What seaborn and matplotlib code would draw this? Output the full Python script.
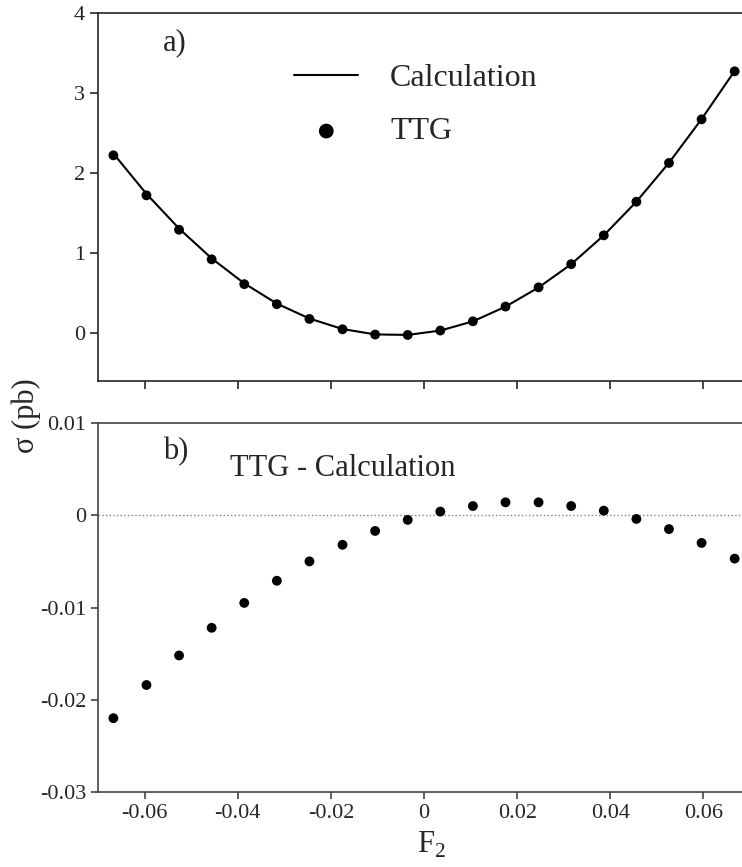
import numpy as np
import pandas as pd
import matplotlib
matplotlib.use('Agg')
import matplotlib.pyplot as plt
import seaborn as sns

# values
f2 = [-0.0667, -0.0596, -0.0526, -0.0456, -0.0386, -0.0316, -0.0246, -0.0175, -0.0105, -0.0035,
      0.0035, 0.0105, 0.0175, 0.0246, 0.0316, 0.0386, 0.0456, 0.0526, 0.0596, 0.0667]
ttg = [2.22, 1.72, 1.29, 0.92, 0.61, 0.36, 0.175, 0.046, -0.02, -0.025,
       0.03, 0.146, 0.33, 0.57, 0.86, 1.22, 1.64, 2.125, 2.67, 3.27]
diff = [-0.0220, -0.0184, -0.0152, -0.0122, -0.0095, -0.0071, -0.0050, -0.0032, -0.0017, -0.0005,
        0.0004, 0.0010, 0.0014, 0.0014, 0.0010, 0.0005, -0.0004, -0.0015, -0.0030, -0.0047]
top_yticks = [0, 1, 2, 3, 4]
bot_yticks = [-0.03, -0.02, -0.01, 0, 0.01]
bot_yticklabels = ['-0.03', '-0.02', '-0.01', '0', '0.01']
xticks = [-0.06, -0.04, -0.02, 0, 0.02, 0.04, 0.06]
xticklabels = ['-0.06', '-0.04', '-0.02', '0', '0.02', '0.04', '0.06']

df = pd.DataFrame({'F2': f2, 'TTG': ttg, 'diff': diff})
df['calc'] = df['TTG'] - df['diff']

sns.set_style('ticks')
plt.rcParams['font.family'] = ['Liberation Serif', 'DejaVu Serif']
plt.rcParams['mathtext.fontset'] = 'custom'
plt.rcParams['mathtext.rm'] = 'Liberation Serif'

fig = plt.figure(figsize=(7.42, 8.67), dpi=100)
ax1 = fig.add_axes([0.1321, 0.5606, 0.8787, 0.4245])
ax2 = fig.add_axes([0.1321, 0.0865, 0.8787, 0.4256])

# top panel: calculation curve and TTG points
sns.lineplot(data=df, x='F2', y='calc', ax=ax1, color='black', lw=1.5, label='Calculation')
sns.scatterplot(data=df, x='F2', y='TTG', ax=ax1, color='black', s=50, edgecolor='none', label='TTG', zorder=3)
ax1.set_xlim(-0.07, 0.07)
ax1.set_ylim(-0.6, 4)
ax1.set_yticks(top_yticks)
ax1.set_xticks(xticks)
ax1.set_xticklabels([])
ax1.set_xlabel('')
ax1.set_ylabel('')
ax1.spines['right'].set_visible(False)
ax1.tick_params(labelsize=16, length=6, width=1.2, direction='out')
leg = ax1.legend(loc='upper left', bbox_to_anchor=(0.257, 0.94), frameon=False, fontsize=23,
                 handlelength=2.0, labelspacing=0.75, handletextpad=1.0, markerscale=1.5)
ax1.text(0.0997, 0.918, 'a)', transform=ax1.transAxes, fontsize=22, ha='left', va='center')

# bottom panel: difference
sns.scatterplot(data=df, x='F2', y='diff', ax=ax2, color='black', s=50, edgecolor='none', zorder=3)
ax2.axhline(0, color='gray', lw=1, ls=':')
ax2.set_xlim(-0.07, 0.07)
ax2.set_ylim(-0.03, 0.01)
ax2.set_yticks(bot_yticks)
ax2.set_yticklabels(bot_yticklabels)
ax2.set_xticks(xticks)
ax2.set_xticklabels(xticklabels)
ax2.set_xlabel('')
ax2.set_ylabel('')
ax2.spines['right'].set_visible(False)
for s in ['left', 'top', 'bottom']:
    ax2.spines[s].set_color('#444444')
ax2.tick_params(labelsize=16, length=5, width=1.2, direction='out', color='#444444')
ax2.text(0.0997, 0.922, 'b)', transform=ax2.transAxes, fontsize=22, ha='left', va='center')
ax2.text(0.2025, 0.878, 'TTG - Calculation', transform=ax2.transAxes, fontsize=22, ha='left', va='center')

for s in ['left', 'top', 'bottom']:
    ax1.spines[s].set_linewidth(1.2)
    ax2.spines[s].set_linewidth(1.2)

fig.text(0.036, 0.521, 'σ (pb)', rotation=90, fontsize=22, ha='center', va='center')
fig.text(0.581, 0.025, r'F$_\mathrm{2}$', fontsize=22, ha='center', va='center')

fig.savefig('out.png', dpi=100)
